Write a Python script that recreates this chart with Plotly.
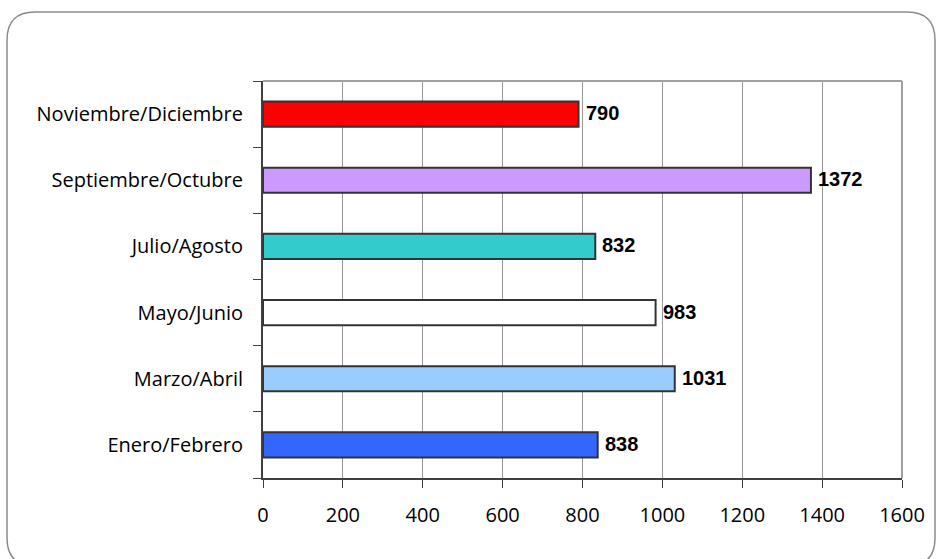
import plotly.graph_objects as go

# Bimonthly totals, listed bottom to top as drawn
periods = [
    "Enero/Febrero",
    "Marzo/Abril",
    "Mayo/Junio",
    "Julio/Agosto",
    "Septiembre/Octubre",
    "Noviembre/Diciembre",
]
values = [838, 1031, 983, 832, 1372, 790]
bar_colors = ["#3366FF", "#99CCFF", "#FFFFFF", "#33CCCC", "#CC99FF", "#FF0000"]
x_ticks = [0, 200, 400, 600, 800, 1000, 1200, 1400, 1600]

W, H = 936, 559
L, R, T, B = 263, 34, 81, 81
PW, PH = W - L - R, H - T - B


def px(x):
    return (x - L) / PW


def py(y):
    return (H - B - y) / PH


def rounded_rect(x0, y0, x1, y1, r):
    return (
        f"M {px(x0 + r)},{py(y0)} L {px(x1 - r)},{py(y0)} "
        f"Q {px(x1)},{py(y0)} {px(x1)},{py(y0 + r)} "
        f"L {px(x1)},{py(y1 - r)} Q {px(x1)},{py(y1)} {px(x1 - r)},{py(y1)} "
        f"L {px(x0 + r)},{py(y1)} Q {px(x0)},{py(y1)} {px(x0)},{py(y1 - r)} "
        f"L {px(x0)},{py(y0 + r)} Q {px(x0)},{py(y0)} {px(x0 + r)},{py(y0)} Z"
    )


TICK_FONT = "Open Sans, Liberation Sans, Arial, sans-serif"
LABEL_FONT = "Liberation Sans, Arial, sans-serif"

fig = go.Figure(
    go.Bar(
        x=values,
        y=periods,
        orientation="h",
        marker=dict(color=bar_colors, line=dict(color="#333333", width=2)),
        hoverinfo="x+y",
    )
)

# value labels just past the end of each bar
for v, p in zip(values, periods):
    fig.add_annotation(
        x=v, y=p, xref="x", yref="y",
        text=f"<b>{v}</b>",
        showarrow=False,
        xanchor="left", yanchor="middle",
        xshift=5, yshift=1,
        font=dict(family=LABEL_FONT, size=20, color="#000000"),
    )

fig.update_layout(
    width=W,
    height=H,
    margin=dict(l=L, r=R, t=T, b=B, pad=0),
    paper_bgcolor="#FFFFFF",
    plot_bgcolor="#FFFFFF",
    bargap=0.62,
    showlegend=False,
    font=dict(family=TICK_FONT, size=20, color="#000000"),
    xaxis=dict(
        range=[0, 1600],
        tickvals=x_ticks,
        ticktext=[str(v) for v in x_ticks],
        showgrid=True,
        gridcolor="#999999",
        gridwidth=1,
        zeroline=False,
        showline=True,
        linecolor="#404040",
        linewidth=2,
        ticks="outside",
        ticklen=8,
        tickwidth=1,
        tickcolor="#404040",
        tickfont=dict(family=TICK_FONT, size=20, color="#000000"),
        ticklabelstandoff=10,
        fixedrange=True,
    ),
    yaxis=dict(
        categoryorder="array",
        categoryarray=periods,
        showgrid=False,
        zeroline=False,
        showline=True,
        linecolor="#404040",
        linewidth=2,
        ticks="outside",
        tickson="boundaries",
        ticklen=8,
        tickwidth=1,
        tickcolor="#404040",
        tickfont=dict(family=TICK_FONT, size=20, color="#000000"),
        ticklabelstandoff=14,
        fixedrange=True,
    ),
    shapes=[
        # plot frame, top and right edges
        dict(type="line", xref="paper", yref="paper", x0=0, x1=1, y0=1, y1=1,
             line=dict(color="#A0A0A0", width=2)),
        dict(type="line", xref="paper", yref="paper", x0=1, x1=1, y0=0, y1=1,
             line=dict(color="#A0A0A0", width=2)),
        # rounded chart border
        dict(type="path", xref="paper", yref="paper",
             path=rounded_rect(7, 12, 935, 566, 28),
             line=dict(color="#8C8C8C", width=1.5), fillcolor="rgba(0,0,0,0)",
             layer="below"),
    ],
)

fig.write_html("out.html")
